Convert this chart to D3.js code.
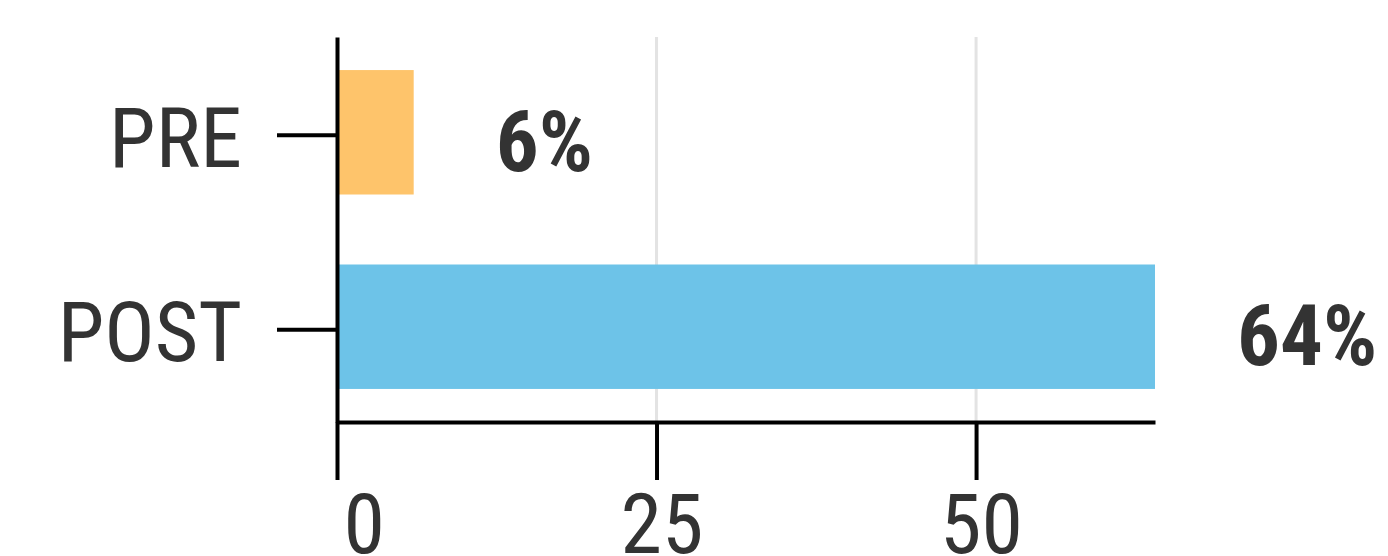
<!DOCTYPE html>
<html>
<head>
<meta charset="utf-8">
<script src="https://cdn.jsdelivr.net/npm/d3@7"></script>
<style>
  html, body { margin: 0; padding: 0; background: #fff; }
  svg text { font-family: "Roboto Condensed", Roboto, sans-serif; }
</style>
</head>
<body>
<svg id="chart" width="1388" height="556"></svg>
<script>
// Share of respondents, before and after
const categories = ["PRE", "POST"];
const values = [6, 64];
const barColors = ["#FEC46B", "#6DC3E8"];
const xTicks = [0, 25, 50];

const width = 1388, height = 556;
const margin = { top: 37, left: 337, right: 233, bottom: 134 };

const svg = d3.select("#chart");

const x = d3.scaleLinear()
  .domain([0, d3.max(values)])
  .range([margin.left, width - margin.right]);

const y = d3.scaleBand()
  .domain(categories)
  .range([margin.top, height - margin.bottom])
  .paddingInner(0.36)
  .paddingOuter(0.17);

const xAxisY = height - margin.bottom;

// vertical gridlines
svg.append("g")
  .selectAll("line")
  .data(xTicks.filter(d => d > 0))
  .join("line")
  .attr("x1", d => x(d)).attr("x2", d => x(d))
  .attr("y1", margin.top).attr("y2", xAxisY)
  .attr("stroke", "#e3e3e3")
  .attr("stroke-width", 3);

// bars
svg.append("g")
  .selectAll("rect")
  .data(categories)
  .join("rect")
  .attr("x", x(0))
  .attr("y", d => y(d))
  .attr("width", (d, i) => x(values[i]) - x(0))
  .attr("height", y.bandwidth())
  .attr("fill", (d, i) => barColors[i]);

// value labels
svg.append("g")
  .selectAll("text")
  .data(categories)
  .join("text")
  .attr("x", (d, i) => x(values[i]) + 82)
  .attr("y", d => y(d) + y.bandwidth() / 2)
  .attr("dy", "0.45em")
  .attr("font-size", 85)
  .attr("font-weight", 700)
  .attr("fill", "#333")
  .text((d, i) => values[i] + "%");

// x axis
const xAxis = svg.append("g")
  .attr("transform", `translate(0,${xAxisY})`)
  .call(d3.axisBottom(x).tickValues(xTicks).tickSize(58).tickSizeOuter(0).tickPadding(13));
xAxis.select(".domain").attr("stroke", "#000").attr("stroke-width", 4);
xAxis.selectAll(".tick line").attr("stroke", "#000").attr("stroke-width", 4);
xAxis.selectAll(".tick text")
  .attr("font-size", 84)
  .attr("fill", "#333")
  .attr("dx", 5)
  .attr("text-anchor", (d, i) => i === 0 ? "start" : "middle")
  .attr("x", (d, i) => i === 0 ? 1 : 0);

// y axis
const yAxis = svg.append("g")
  .attr("transform", `translate(${x(0)},0)`)
  .call(d3.axisLeft(y).tickSize(60).tickSizeOuter(0).tickPadding(35));
yAxis.select(".domain").attr("stroke", "#000").attr("stroke-width", 4);
yAxis.selectAll(".tick line").attr("stroke", "#000").attr("stroke-width", 4).attr("transform", "translate(0,3)");
yAxis.selectAll(".tick text")
  .attr("font-size", 84)
  .attr("fill", "#333")
  .attr("dy", "0.41em");
</script>
</body>
</html>
